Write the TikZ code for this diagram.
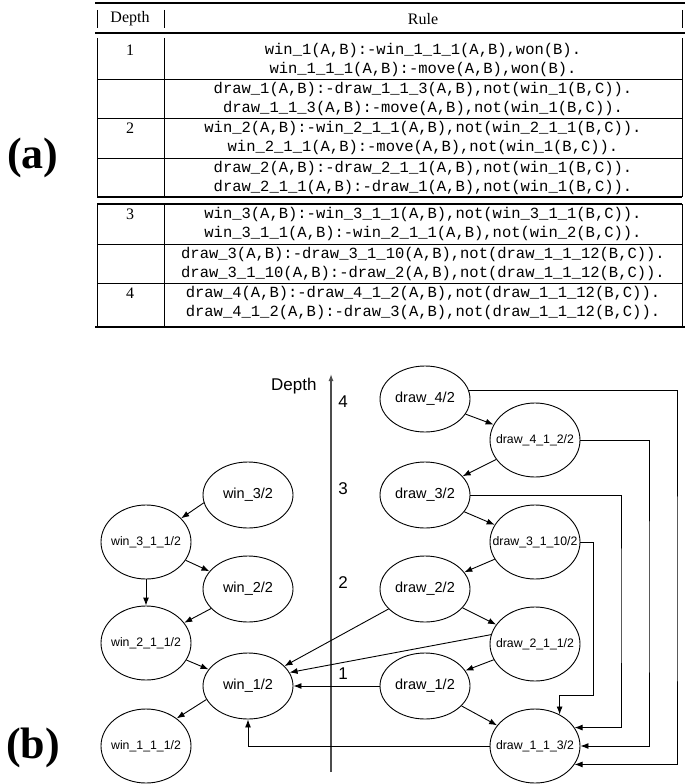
\documentclass[tikz,border=0pt]{standalone}
\usepackage{fontspec}
\setmainfont{Liberation Serif}
\setsansfont{Liberation Sans}
\setmonofont{Liberation Mono}
\usetikzlibrary{shapes.geometric, arrows.meta, positioning, calc}

\newcommand{\ovtext}[1]{\makebox[0pt]{#1}}

\begin{document}
\begin{tikzpicture}[x=1pt, y=-1pt,
    rulerow/.style={font=\fontsize{15.5}{18}\selectfont\ttfamily},
    depthnum/.style={font=\fontsize{16}{18}\selectfont},
    panel/.style={font=\fontsize{44}{44}\selectfont\bfseries},
    goal/.style={draw, ellipse, line width=0.9pt, minimum width=90pt, minimum height=66pt, inner sep=0pt, font=\fontsize{14.5}{16}\selectfont\sffamily},
    subgoal/.style={goal, minimum height=74pt, font=\fontsize{12.3}{14}\selectfont\sffamily},
    axislbl/.style={font=\fontsize{17}{19}\selectfont\sffamily},
    dep/.style={-{Latex[length=8pt,width=6pt]}, line width=0.9pt}]
    \useasboundingbox (0,0) rectangle (685,784);

    % Panel labels
    \node[panel] (lbla) at (33,158) {(a)};
    \node[panel] (lblb) at (33,748) {(b)};

    % Table rules
    \draw[line width=1.5pt] (95,3) -- (685,3);
    \draw[line width=0.8pt] (97,10) -- (97,28) (164,10) -- (164,28) (682,10) -- (682,28);
    \draw[line width=1.6pt] (95,33) -- (685,33);
    \draw[line width=0.8pt] (97,38) -- (97,197) (164,38) -- (164,197) (682,38) -- (682,197);
    \draw[line width=0.8pt] (97,79) -- (682,79) (97,118) -- (682,118) (97,158) -- (682,158);
    \draw[line width=1.2pt] (97,197) -- (682,197) (97,204) -- (682,204);
    \draw[line width=0.8pt] (97,204) -- (97,326) (164,204) -- (164,326) (682,204) -- (682,326);
    \draw[line width=0.8pt] (97,244) -- (682,244) (97,283) -- (682,283);
    \draw[line width=1.8pt] (95,327) -- (685,327);

    % Header
    \node[depthnum] (hdepth) at (130,19) {Depth};
    \node[depthnum] (hrule) at (423,19) {Rule};

    % Depth column
    \node[depthnum] (dep1) at (130,50) {1};
    \node[depthnum] (dep2) at (130,128) {2};
    \node[depthnum] (dep3) at (130,214) {3};
    \node[depthnum] (dep4) at (130,293) {4};

    % Rules
    \node[rulerow] (r1a) at (423,50) {win\_1(A,B):-win\_1\_1\_1(A,B),won(B).};
    \node[rulerow] (r1b) at (423,69) {win\_1\_1\_1(A,B):-move(A,B),won(B).};
    \node[rulerow] (r2a) at (423,89) {draw\_1(A,B):-draw\_1\_1\_3(A,B),not(win\_1(B,C)).};
    \node[rulerow] (r2b) at (423,108) {draw\_1\_1\_3(A,B):-move(A,B),not(win\_1(B,C)).};
    \node[rulerow] (r3a) at (423,128) {win\_2(A,B):-win\_2\_1\_1(A,B),not(win\_2\_1\_1(B,C)).};
    \node[rulerow] (r3b) at (423,147) {win\_2\_1\_1(A,B):-move(A,B),not(win\_1(B,C)).};
    \node[rulerow] (r4a) at (423,168) {draw\_2(A,B):-draw\_2\_1\_1(A,B),not(win\_1(B,C)).};
    \node[rulerow] (r4b) at (423,187) {draw\_2\_1\_1(A,B):-draw\_1(A,B),not(win\_1(B,C)).};
    \node[rulerow] (r5a) at (423,214) {win\_3(A,B):-win\_3\_1\_1(A,B),not(win\_3\_1\_1(B,C)).};
    \node[rulerow] (r5b) at (423,233) {win\_3\_1\_1(A,B):-win\_2\_1\_1(A,B),not(win\_2(B,C)).};
    \node[rulerow] (r6a) at (423,254) {draw\_3(A,B):-draw\_3\_1\_10(A,B),not(draw\_1\_1\_12(B,C)).};
    \node[rulerow] (r6b) at (423,273) {draw\_3\_1\_10(A,B):-draw\_2(A,B),not(draw\_1\_1\_12(B,C)).};
    \node[rulerow] (r7a) at (423,293) {draw\_4(A,B):-draw\_4\_1\_2(A,B),not(draw\_1\_1\_12(B,C)).};
    \node[rulerow] (r7b) at (423,312) {draw\_4\_1\_2(A,B):-draw\_3(A,B),not(draw\_1\_1\_12(B,C)).};

    % Depth axis
    \coordinate (axisbot) at (331,772);
    \coordinate (axistop) at (331,374);
    \draw[line width=1.3pt, black!70, -{Latex[length=7pt,width=5pt]}] (axisbot) -- (axistop);
    \node[axislbl, anchor=east] (depthlbl) at (320,386) {Depth};
    \node[axislbl] (lvl4) at (343,402) {4};
    \node[axislbl] (lvl3) at (343,489) {3};
    \node[axislbl] (lvl2) at (343,583) {2};
    \node[axislbl] (lvl1) at (343,674) {1};

    % Win goals
    \node[goal] (win3) at (248,495) {\ovtext{win\_3/2}};
    \node[subgoal] (w311) at (146,542) {\ovtext{win\_3\_1\_1/2}};
    \node[goal] (win2) at (248,589) {\ovtext{win\_2/2}};
    \node[subgoal] (w211) at (146,643) {\ovtext{win\_2\_1\_1/2}};
    \node[goal] (win1) at (248,686) {\ovtext{win\_1/2}};
    \node[subgoal] (w111) at (146,746) {\ovtext{win\_1\_1\_1/2}};

    % Draw goals
    \node[goal] (d4) at (425,399) {\ovtext{draw\_4/2}};
    \node[subgoal] (d412) at (535,440) {\ovtext{draw\_4\_1\_2/2}};
    \node[goal] (d3) at (425,495) {\ovtext{draw\_3/2}};
    \node[subgoal] (d3110) at (535,542) {\ovtext{draw\_3\_1\_10/2}};
    \node[goal] (d2) at (425,589) {\ovtext{draw\_2/2}};
    \node[subgoal] (d211) at (535,644) {\ovtext{draw\_2\_1\_1/2}};
    \node[goal] (d1) at (425,686) {\ovtext{draw\_1/2}};
    \node[subgoal] (d113) at (535,746) {\ovtext{draw\_1\_1\_3/2}};

    % Win dependencies
    \draw[dep] (win3.190) -- (w311.34);
    \draw[dep] (w311) -- (win2);
    \draw[dep] (w311) -- (w211);
    \draw[dep] (win2) -- (w211);
    \draw[dep] (w211) -- (win1);
    \draw[dep] (win1.198) -- (w111.42);

    % Draw dependencies
    \draw[dep] (d4) -- (d412);
    \draw[dep] (d412) -- (d3);
    \draw[dep] (d3) -- (d3110);
    \draw[dep] (d3110) -- (d2);
    \draw[dep] (d2) -- (d211);
    \draw[dep] (d211) -- (d1);
    \draw[dep] (d1) -- (d113);

    % Links into win_1
    \draw[dep] (d2) -- (win1);
    \draw[dep] (d211.168) -- (win1.18);
    \draw[dep] (d1.west) -- (win1.east);
    \draw[dep] (d113.west) -| (win1.south);

    % Links into draw_1_1_3
    \coordinate (bus1) at (677,600);
    \coordinate (bus2) at (649,600);
    \coordinate (bus3) at (621,600);
    \coordinate (jog) at (593,695);
    \draw[dep] (d4.11) -| (bus1) |- (d113.335);
    \draw[dep] (d412.east) -| (bus2) |- (d113.east);
    \draw[dep] (d3.east) -| (bus3) |- (d113.25);
    \draw[dep] (d3110.east) -| (jog) -| (d113.52);
\end{tikzpicture}
\end{document}
